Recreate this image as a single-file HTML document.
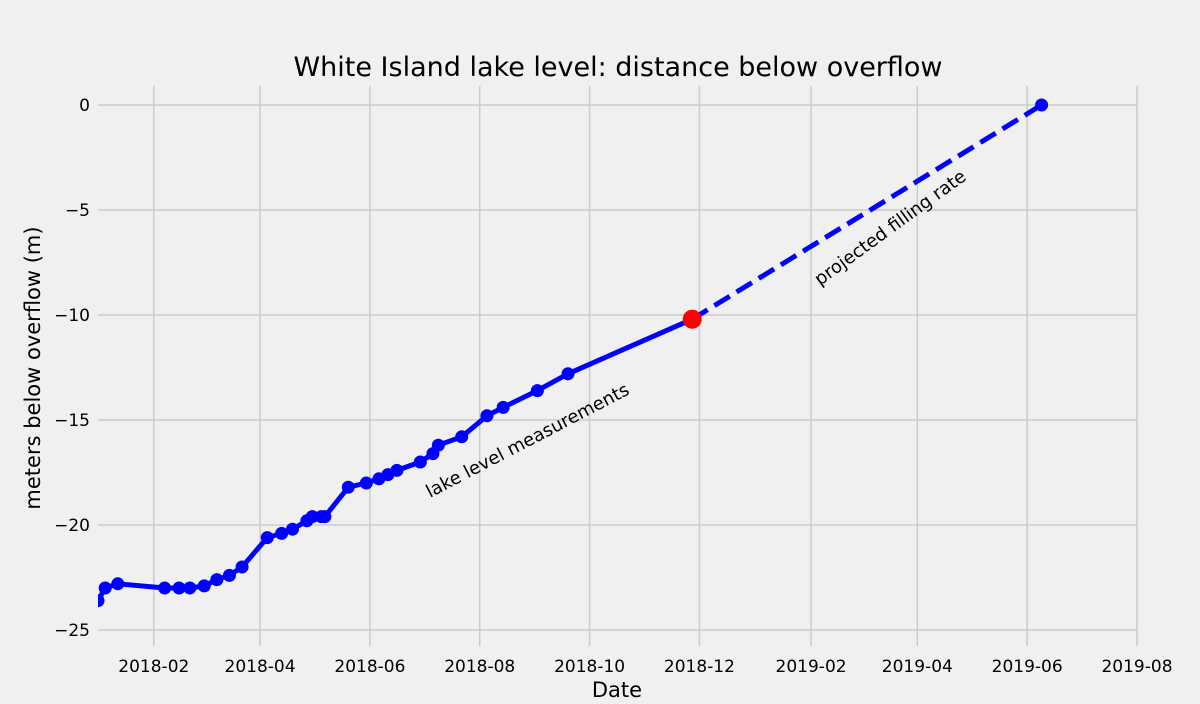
<!DOCTYPE html>
<html><head><meta charset="utf-8"><style>
body{margin:0;background:#f0f0f0;font-family:"DejaVu Sans","Liberation Sans",sans-serif}
svg text{font-family:"DejaVu Sans","Liberation Sans",sans-serif}
</style></head><body>
<svg width="1200" height="700" xmlns="http://www.w3.org/2000/svg">
<rect width="1200" height="700" fill="#f0f0f0"/>
<defs><clipPath id="clip"><rect x="98" y="86" width="1039" height="560"/></clipPath></defs>
<g id="grid"></g>
<g id="marks" clip-path="url(#clip)"></g>
<text x="618" y="76" font-size="27" text-anchor="middle" fill="#000">White Island lake level: distance below overflow</text>
<text x="617" y="697" font-size="21" text-anchor="middle">Date</text>
<text x="40" y="368" font-size="21" text-anchor="middle" transform="rotate(-90 40 368)">meters below overflow (m)</text>
<text x="430" y="498" font-size="18" transform="rotate(-27.5 430 498)">lake level measurements</text>
<text x="820" y="286" font-size="18" transform="rotate(-36 820 286)">projected filling rate</text>
</svg>
<script>
const dates=["2018-01-01","2018-01-05","2018-01-12","2018-02-07","2018-02-15","2018-02-21","2018-03-01","2018-03-08","2018-03-15","2018-03-22","2018-04-05","2018-04-13","2018-04-19","2018-04-27","2018-04-30","2018-05-05","2018-05-07","2018-05-20","2018-05-30","2018-06-06","2018-06-11","2018-06-16","2018-06-29","2018-07-06","2018-07-09","2018-07-22","2018-08-05","2018-08-14","2018-09-02","2018-09-19","2018-11-27"];
const levels=[-23.6,-23.0,-22.8,-23.0,-23.0,-23.0,-22.9,-22.6,-22.4,-22.0,-20.6,-20.4,-20.2,-19.8,-19.6,-19.6,-19.6,-18.2,-18.0,-17.8,-17.6,-17.4,-17.0,-16.6,-16.2,-15.8,-14.8,-14.4,-13.6,-12.8,-10.2];
const projDates=["2018-11-27","2019-06-09"];
const projLevels=[-10.2,0];
const xTicks=["2018-02","2018-04","2018-06","2018-08","2018-10","2018-12","2019-02","2019-04","2019-06","2019-08"];
const yTicks=[0,-5,-10,-15,-20,-25];
const NS="http://www.w3.org/2000/svg";
const t=s=>Date.UTC(+s.slice(0,4),+s.slice(5,7)-1,s.length>7?+s.slice(8,10):1);
const x0=t("2018-01-01"),x1=t("2019-08-01"),X0=98,X1=1137;
const X=d=>X0+(t(d)-x0)/(x1-x0)*(X1-X0);
const Y=v=>105+(-v)*21;
function mk(tag,attrs,parent){const e=document.createElementNS(NS,tag);for(const k in attrs)e.setAttribute(k,attrs[k]);parent.appendChild(e);return e;}
const grid=document.getElementById('grid'),marks=document.getElementById('marks'),svg=document.querySelector('svg');
xTicks.forEach(d=>{const x=X(d);
 const l=mk('line',{x1:x,x2:x,y1:86,y2:646,stroke:'#cbcbcb','stroke-width':1.5},grid);
 
 const tx=mk('text',{x:x,y:672,'font-size':17,'text-anchor':'middle'},svg);tx.textContent=d;
 });
yTicks.forEach(v=>{const y=Y(v);
 const l=mk('line',{x1:98,x2:1137,y1:y,y2:y,stroke:'#cbcbcb','stroke-width':1.5},grid);
 
 const tx=mk('text',{x:90,y:y+6,'font-size':17,'text-anchor':'end'},svg);tx.textContent=v===0?'0':'\u2212'+Math.abs(v);
 });
const pl=mk('polyline',{points:projDates.map((d,i)=>X(d)+','+Y(projLevels[i])).join(' '),fill:'none',stroke:'#0000ff','stroke-width':5,'stroke-dasharray':'18,8'},marks);

const ml=mk('polyline',{points:dates.map((d,i)=>X(d)+','+Y(levels[i])).join(' '),fill:'none',stroke:'#0000ff','stroke-width':5,'stroke-linejoin':'round'},marks);

dates.forEach((d,i)=>{if(i===dates.length-1)return;
 const c=mk('circle',{cx:X(d),cy:Y(levels[i]),r:6.5,fill:'#0000ff'},marks);
 });
const pe=mk('circle',{cx:X(projDates[1]),cy:Y(projLevels[1]),r:6.5,fill:'#0000ff'},marks);

const r=mk('circle',{cx:X(dates[dates.length-1]),cy:Y(levels[levels.length-1]),r:9.5,fill:'#ff0000'},marks);

</script>
</body></html>
